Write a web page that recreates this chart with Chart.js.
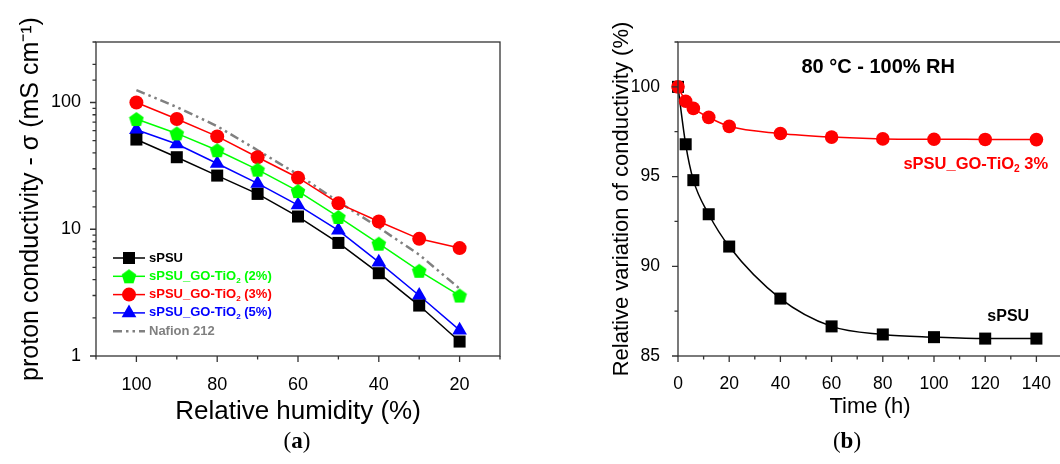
<!DOCTYPE html>
<html>
<head>
<meta charset="utf-8">
<script src="https://cdn.jsdelivr.net/npm/chart.js@4/dist/chart.umd.min.js"></script>
<style>
  html, body { margin: 0; padding: 0; background: #fff; overflow: hidden; width: 1060px; height: 464px; }
  canvas { position: absolute; top: 0; }
  #chartA { left: 0; }
  #chartB { left: 600px; }
  .cap { position: absolute; top: 428px; font-family: "Liberation Serif", "DejaVu Serif", serif; font-size: 23px; transform: translateX(-50%); }
</style>
</head>
<body>
<canvas id="chartA" width="520" height="440"></canvas>
<canvas id="chartB" width="472" height="440"></canvas>
<div class="cap" style="left:297px">(<b>a</b>)</div>
<div class="cap" style="left:847px">(<b>b</b>)</div>
<script>
const FONT = '"Liberation Sans", Arial, sans-serif';

// (a) proton conductivity (mS/cm) vs relative humidity (%)
const rh = [100, 90, 80, 70, 60, 50, 40, 30, 20];
const sPSU = [51, 37, 26.5, 19, 12.6, 7.8, 4.5, 2.5, 1.3];
const go2 = [74, 57, 42, 29.5, 20, 12.5, 7.7, 4.7, 3.0];
const go3 = [100, 74, 54, 37, 25.5, 16, 11.5, 8.4, 7.1];
const go5 = [61, 47, 33, 23, 15.5, 9.8, 5.5, 3.0, 1.6];
const nafion = [125, 92, 65, 42, 27, 16.5, 10.3, 6.3, 3.4];
const rhTicks = [100, 80, 60, 40, 20];
const sigmaTicks = [1, 10, 100];

// (b) relative conductivity (%) vs time at 80 °C - 100% RH
const hours = [0, 3, 6, 12, 20, 40, 60, 80, 100, 120, 140];
const sPSUtime = [100, 96.8, 94.8, 92.9, 91.1, 88.2, 86.65, 86.2, 86.05, 85.97, 85.97];
const go3time = [100, 99.2, 98.8, 98.3, 97.8, 97.4, 97.2, 97.1, 97.08, 97.07, 97.06];
const timeTicks = [0, 20, 40, 60, 80, 100, 120, 140];
const relTicks = [85, 90, 95, 100];

function pentagon(color, size) {
  const c = document.createElement('canvas');
  c.width = c.height = size;
  const g = c.getContext('2d');
  const r = size / 2 - 0.3;
  const cy = size / 2 + 0.0955 * r;
  g.beginPath();
  for (let i = 0; i < 5; i++) {
    const a = -Math.PI / 2 + i * 2 * Math.PI / 5;
    g.lineTo(size / 2 + r * Math.cos(a), cy + r * Math.sin(a));
  }
  g.closePath();
  g.fillStyle = color;
  g.fill();
  return c;
}
const greenPent = pentagon('#00ff00', 16);

const pts = (xs, ys) => xs.map((x, i) => ({ x, y: ys[i] }));

function richText(ctx, parts, x, y, size, align) {
  const w = parts.reduce((s, [t, sub]) => {
    ctx.font = `bold ${sub ? size * 0.62 : size}px ${FONT}`;
    return s + ctx.measureText(t).width;
  }, 0);
  if (align === 'right') x -= w;
  if (align === 'center') x -= w / 2;
  ctx.textAlign = 'left';
  parts.forEach(([t, sub]) => {
    ctx.font = `bold ${sub ? size * 0.62 : size}px ${FONT}`;
    ctx.fillText(t, x, sub ? y + size * 0.32 : y);
    x += ctx.measureText(t).width;
  });
}

// frame + outward major/minor ticks
const frameTicks = {
  id: 'frameTicks',
  afterDraw(chart, args, opts) {
    const { ctx, chartArea: a } = chart;
    const xs = chart.scales.x, ys = chart.scales.y;
    ctx.save();
    ctx.strokeStyle = '#333';
    ctx.lineWidth = 1.3;
    ctx.strokeRect(a.left, a.top, a.right - a.left, a.bottom - a.top);
    ctx.beginPath();
    xs.ticks.forEach(t => {
      const p = xs.getPixelForValue(t.value);
      const L = opts.majorX(t.value) ? 6 : 3.5;
      ctx.moveTo(p, a.bottom); ctx.lineTo(p, a.bottom + L);
    });
    ys.ticks.forEach(t => {
      const p = ys.getPixelForValue(t.value);
      const L = opts.majorY(t.value) ? 6 : 3.5;
      ctx.moveTo(a.left, p); ctx.lineTo(a.left - L, p);
    });
    ctx.stroke();
    ctx.restore();
  }
};

const legendA = {
  id: 'legendA',
  afterDraw(chart) {
    const ctx = chart.ctx;
    const items = [
      { c: '#000000', style: 'rect', r: 8.5, parts: [['sPSU']] },
      { c: '#00ff00', style: greenPent, r: 8, parts: [['sPSU_GO-TiO'], ['2', 1], [' (2%)']] },
      { c: '#ff0000', style: 'circle', r: 7, parts: [['sPSU_GO-TiO'], ['2', 1], [' (3%)']] },
      { c: '#0000ff', style: 'triangle', r: 8.5, parts: [['sPSU_GO-TiO'], ['2', 1], [' (5%)']] },
      { c: '#808080', style: null, parts: [['Nafion 212']] }
    ];
    ctx.save();
    ctx.textBaseline = 'middle';
    items.forEach((it, i) => {
      const y = 258 + i * 18.3;
      ctx.strokeStyle = it.c;
      ctx.fillStyle = it.c;
      ctx.beginPath();
      if (it.style) {
        ctx.lineWidth = 1.5;
        ctx.setLineDash([]);
      } else {
        ctx.lineWidth = 2.5;
        ctx.setLineDash([9, 4, 2.5, 4, 2.5, 4]);
      }
      ctx.moveTo(113, y); ctx.lineTo(145, y);
      ctx.stroke();
      ctx.setLineDash([]);
      if (it.style) {
        Chart.helpers.drawPoint(ctx, { pointStyle: it.style, radius: it.r, rotation: 0, borderWidth: 0 }, 129, y);
      }
      ctx.fillStyle = it.c;
      richText(ctx, it.parts, 149, y, 13);
    });
    ctx.restore();
  }
};

const notesB = {
  id: 'notesB',
  afterDraw(chart) {
    const { ctx } = chart;
    const xs = chart.scales.x, ys = chart.scales.y;
    ctx.save();
    ctx.textBaseline = 'middle';
    ctx.fillStyle = '#000';
    richText(ctx, [['80 °C - 100% RH']], xs.getPixelForValue(78.2), ys.getPixelForValue(101.1), 20, 'center');
    ctx.fillStyle = '#ff0000';
    richText(ctx, [['sPSU_GO-TiO'], ['2', 1], [' 3%']], xs.getPixelForValue(144.6), ys.getPixelForValue(95.7), 16.5, 'right');
    ctx.fillStyle = '#000';
    richText(ctx, [['sPSU']], xs.getPixelForValue(129), ys.getPixelForValue(87.22), 16, 'center');
    ctx.restore();
  }
};

function line(label, data, color, extra) {
  return Object.assign({
    label, data, borderColor: color, backgroundColor: color,
    pointBackgroundColor: color, pointBorderWidth: 0, borderWidth: 1.5,
    tension: 0, clip: false
  }, extra);
}

new Chart(document.getElementById('chartA'), {
  type: 'line',
  data: {
    datasets: [
      line('sPSU', pts(rh, sPSU), '#000000', { pointStyle: 'rect', pointRadius: 8.5 }),
      line('sPSU_GO-TiO2 (2%)', pts(rh, go2), '#00ff00', { pointStyle: greenPent, pointRadius: 8 }),
      line('sPSU_GO-TiO2 (3%)', pts(rh, go3), '#ff0000', { pointStyle: 'circle', pointRadius: 7 }),
      line('sPSU_GO-TiO2 (5%)', pts(rh, go5), '#0000ff', { pointStyle: 'triangle', pointRadius: 8.5 }),
      line('Nafion 212', pts(rh, nafion), '#808080', { pointRadius: 0, borderWidth: 2.5, borderDash: [9, 4, 2.5, 4, 2.5, 4] })
    ]
  },
  options: {
    responsive: false, animation: false,
    layout: { padding: { left: 0, top: 42, right: 20, bottom: 0 } },
    plugins: { legend: { display: false }, tooltip: { enabled: false },
      frameTicks: { majorX: v => rhTicks.includes(v), majorY: v => Math.abs(Math.log10(v) - Math.round(Math.log10(v))) < 1e-9 } },
    scales: {
      x: {
        type: 'linear', reverse: true, min: 10, max: 110,
        afterFit: s => { s.height = 84; },
        grid: { display: false }, border: { display: false },
        ticks: { stepSize: 10, autoSkip: false, maxRotation: 0, padding: 10, color: '#000', font: { family: FONT, size: 18 },
          callback: v => rhTicks.includes(v) ? String(v) : '' },
        title: { display: true, text: 'Relative humidity (%)', color: '#000', font: { family: FONT, size: 26 }, padding: { bottom: 13 } }
      },
      y: {
        type: 'logarithmic', min: 1, max: 300,
        afterFit: s => { s.width = 96; },
        grid: { display: false }, border: { display: false },
        ticks: { autoSkip: false, padding: 7, color: '#000', font: { family: FONT, size: 18 },
          callback: v => sigmaTicks.includes(v) ? String(v) : '' },
        title: { display: true, text: 'proton conductivity - σ (mS cm⁻¹)', color: '#000', font: { family: FONT, size: 25 }, padding: { top: 16 } }
      }
    }
  },
  plugins: [frameTicks, legendA]
});

new Chart(document.getElementById('chartB'), {
  type: 'line',
  data: {
    datasets: [
      line('sPSU_GO-TiO2 3%', pts(hours, go3time), '#ff0000', { pointStyle: 'circle', pointRadius: 6.8, cubicInterpolationMode: 'monotone' }),
      line('sPSU', pts(hours, sPSUtime), '#000000', { pointStyle: 'rect', pointRadius: 8.5, cubicInterpolationMode: 'monotone' })
    ]
  },
  options: {
    responsive: false, animation: false,
    layout: { padding: { left: 0, top: 42, right: 1, bottom: 0 } },
    plugins: { legend: { display: false }, tooltip: { enabled: false },
      frameTicks: { majorX: v => timeTicks.includes(v), majorY: v => relTicks.includes(v) } },
    scales: {
      x: {
        type: 'linear', min: 0, max: 150,
        afterFit: s => { s.height = 84; },
        grid: { display: false }, border: { display: false },
        ticks: { stepSize: 10, autoSkip: false, maxRotation: 0, padding: 10, color: '#000', font: { family: FONT, size: 17.5 },
          callback: v => timeTicks.includes(v) ? String(v) : '' },
        title: { display: true, text: 'Time (h)', color: '#000', font: { family: FONT, size: 22 }, padding: { bottom: 20 } }
      },
      y: {
        type: 'linear', min: 85, max: 102.5,
        afterFit: s => { s.width = 78; },
        grid: { display: false }, border: { display: false },
        ticks: { stepSize: 2.5, autoSkip: false, padding: 10, color: '#000', font: { family: FONT, size: 17.5 },
          callback: v => relTicks.includes(v) ? String(v) : '' },
        title: { display: true, text: 'Relative variation of conductivity (%)', color: '#000', font: { family: FONT, size: 22 }, padding: { top: 9 } }
      }
    }
  },
  plugins: [frameTicks, notesB]
});
</script>
</body>
</html>
